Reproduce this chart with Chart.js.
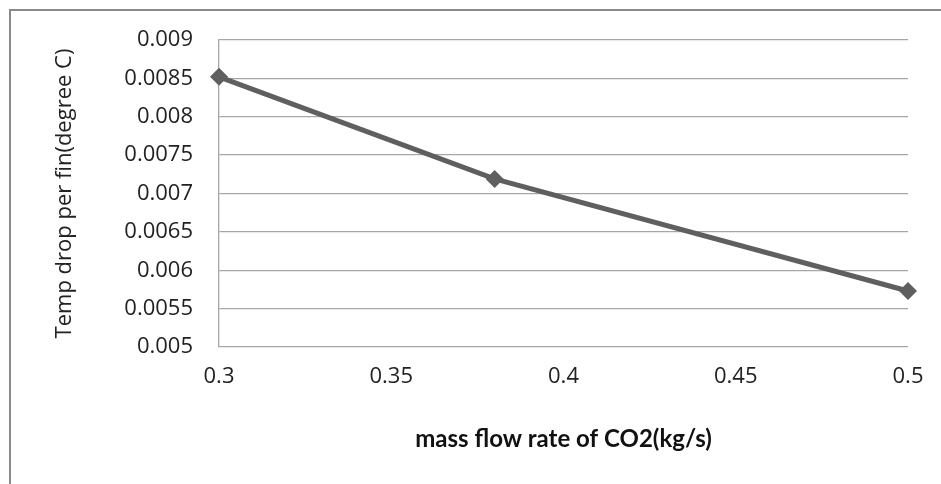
<!DOCTYPE html>
<html>
<head>
<meta charset="utf-8">
<script src="https://cdn.jsdelivr.net/npm/chart.js@4"></script>
<style>
  html, body { margin: 0; padding: 0; background: #fff; overflow: hidden; }
  #frame { position: absolute; left: 9px; top: 9px; width: 1000px; height: 600px;
           border-left: 2px solid #8a8a8a; border-top: 2px solid #8a8a8a; }
  #wrap { position: absolute; left: 0; top: 0; width: 941px; height: 484px; }
</style>
</head>
<body>
<div id="frame"></div>
<div id="wrap"><canvas id="chart"></canvas></div>
<script>
// mass flow rate of CO2 (kg/s) vs temp drop per fin (degree C)
const flowRate = [0.3, 0.38, 0.5];
const tempDrop = [0.00852, 0.00719, 0.00573];

const xTitle = 'mass flow rate of CO2(kg/s)';
const yTitle = 'Temp drop per fin(degree C)';

const gridColor = '#a6a6a6';
const lineColor = '#5f5f5f';
const tickFont = "'Open Sans', sans-serif";

let chart = new Chart(document.getElementById('chart'), {
  type: 'scatter',
  data: {
    datasets: [{
      label: 'Temp drop',
      data: flowRate.map((x, i) => ({ x: x, y: tempDrop[i] })),
      showLine: true,
      tension: 0,
      clip: false,
      borderColor: lineColor,
      backgroundColor: lineColor,
      borderWidth: 5,
      pointStyle: 'rectRot',
      pointRadius: 9,
      pointBorderWidth: 0,
      pointBackgroundColor: lineColor
    }]
  },
  options: {
    responsive: true,
    maintainAspectRatio: false,
    animation: false,
    layout: { padding: { left: 0, right: 33, top: 40, bottom: 0 } },
    plugins: { legend: { display: false }, tooltip: { enabled: false } },
    scales: {
      x: {
        type: 'linear',
        min: 0.3,
        max: 0.5,
        afterFit: function(scale) { scale.height = 137; },
        ticks: {
          stepSize: 0.05,
          padding: 17,
          color: '#222',
          font: { family: tickFont, size: 22 },
          callback: v => String(parseFloat(v.toFixed(4)))
        },
        grid: { display: false, drawTicks: false },
        border: { display: false },
        title: {
          display: true,
          text: xTitle,
          color: '#111',
          font: { family: "Lato, sans-serif", size: 24, weight: 'bold' },
          padding: { top: 0, bottom: 30 }
        }
      },
      y: {
        min: 0.005,
        max: 0.009,
        afterFit: function(scale) { scale.width = 219; },
        ticks: {
          stepSize: 0.0005,
          padding: 26,
          color: '#222',
          font: { family: tickFont, size: 22 },
          callback: v => String(parseFloat(v.toFixed(6)))
        },
        grid: { color: gridColor, lineWidth: 1.3, drawTicks: false },
        border: { display: true, color: gridColor, width: 1.3 },
        title: {
          display: true,
          text: yTitle,
          color: '#222',
          font: { family: tickFont, size: 22 },
          padding: { top: 52, bottom: 0 }
        }
      }
    }
  }
});
</script>
</body>
</html>
